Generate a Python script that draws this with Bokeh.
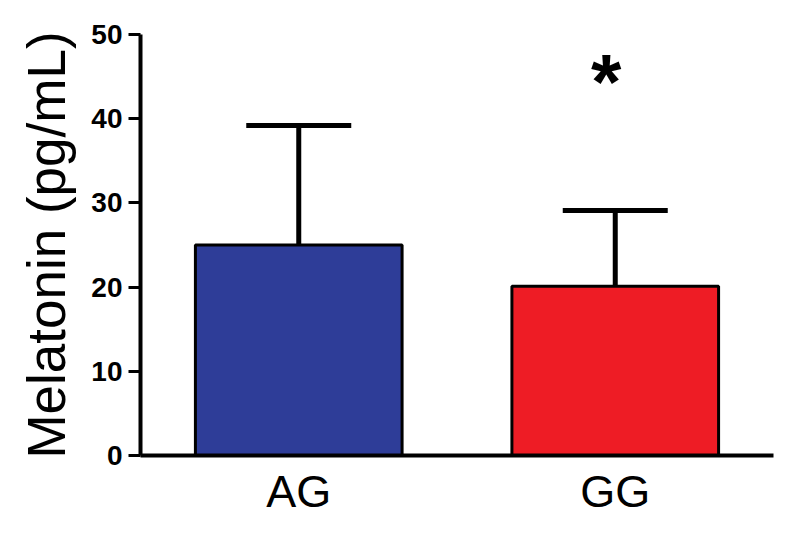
from bokeh.plotting import figure
from bokeh.models import ColumnDataSource, FactorRange, Range1d, FixedTicker, Whisker, TeeHead
from bokeh.core.properties import value
from bokeh.embed import file_html
from bokeh.resources import INLINE

# Data
genotypes = ["AG", "GG"]
means = [25.0, 20.1]
sd_upper = [39.2, 29.1]
colors = ["#2E3D98", "#EE1C25"]
y_ticks = [0, 10, 20, 30, 40, 50]
sig_label = "*"
sig_group = ["GG"]
sig_y = [44.4]

FONT = "Liberation Sans"

p = figure(width=792, height=526, x_range=FactorRange(factors=genotypes),
           y_range=Range1d(0, 50), output_backend="svg", toolbar_location=None,
           min_border_left=140, min_border_right=19, min_border_top=34, min_border_bottom=71)
p.outline_line_color = None
p.xgrid.visible = False
p.ygrid.visible = False
p.background_fill_color = "white"

src = ColumnDataSource(dict(x=genotypes, top=means, upper=sd_upper, color=colors))

w = Whisker(base="x", lower="top", upper="upper", source=src,
            line_color="black", line_width=5,
            upper_head=TeeHead(size=105, line_color="black", line_width=5),
            lower_head=None)
p.add_layout(w)

p.vbar(x="x", top="top", bottom=0, width=0.653, source=src, fill_color="color",
       line_color="black", line_width=3)

p.text(x=sig_group, y=sig_y, text=[sig_label], text_font=value(FONT),
       text_font_size="78px", text_font_style="bold", text_align="center",
       text_baseline="middle", text_color="black", x_offset=-9)

# y axis
ya = p.yaxis[0]
ya.ticker = FixedTicker(ticks=y_ticks)
ya.axis_line_width = 4
ya.axis_line_color = "black"
ya.major_tick_line_width = 3
ya.major_tick_out = 12
ya.major_tick_in = 0
ya.minor_tick_line_color = None
ya.major_label_text_font = FONT
ya.major_label_text_font_size = "28px"
ya.major_label_text_font_style = "bold"
ya.major_label_text_color = "black"
ya.major_label_standoff = 6
ya.axis_label = "Melatonin (pg/mL)"
ya.axis_label_text_font = FONT
ya.axis_label_text_font_size = "53px"
ya.axis_label_text_font_style = "normal"
ya.axis_label_text_color = "black"
ya.axis_label_standoff = 12

# x axis
xa = p.xaxis[0]
xa.axis_line_width = 4
xa.axis_line_color = "black"
xa.major_tick_line_color = None
xa.minor_tick_line_color = None
xa.major_label_text_font = FONT
xa.major_label_text_font_size = "45px"
xa.major_label_text_color = "black"
xa.major_label_standoff = 4

open("out.html", "w").write(file_html(p, INLINE))
